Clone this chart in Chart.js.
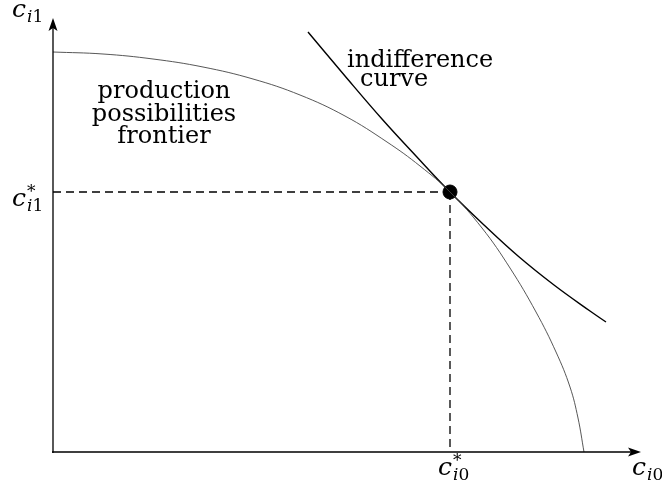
<!DOCTYPE html>
<html lang="en">
<head>
    <meta charset="UTF-8">
    <title>Production possibilities frontier</title>
    <script src="https://cdn.jsdelivr.net/npm/chart.js"></script>
    <style>
        body {
            margin: 0;
            padding: 0;
            background: #ffffff;
        }
        .chart-container {
            position: relative;
            width: 662px;
            height: 491px;
        }
    </style>
</head>
<body>
    <div class="chart-container">
        <canvas id="ppfChart" width="662" height="491"></canvas>
    </div>

    <script>
        // axis extents (arbitrary units)
        const xMax = 5.88;
        const yMax = 4.34;

        // production possibilities frontier
        const ppfX = [0, 0.50, 1.00, 1.50, 2.00, 2.47, 2.92, 3.34, 3.67, 3.97, 4.29, 4.57, 4.83, 5.03, 5.17, 5.25, 5.31];
        const ppfY = [4.00, 3.98, 3.93, 3.85, 3.73, 3.57, 3.36, 3.10, 2.86, 2.60, 2.24, 1.84, 1.40, 1.00, 0.65, 0.34, 0];

        // indifference curve
        const icX = [2.55, 2.92, 3.29, 3.63, 3.97, 4.31, 4.65, 5.01, 5.37, 5.53];
        const icY = [4.20, 3.76, 3.33, 2.96, 2.60, 2.27, 1.96, 1.67, 1.41, 1.30];

        // optimum
        const optX = 3.97;
        const optY = 2.60;

        const ppfLabel = ['production', 'possibilities', 'frontier'];
        const icLabel = ['indifference', 'curve'];

        const toPts = (xs, ys) => xs.map((x, i) => ({ x: x, y: ys[i] }));

        const SERIF = '"DejaVu Serif"';

        // c with subscript (and optional star), x/y = baseline left
        function drawVar(ctx, x, y, sub, star) {
            ctx.font = 'italic 25px ' + SERIF;
            ctx.fillText('c', x, y);
            let w = ctx.measureText('c').width + 1;
            if (star) {
                ctx.font = '17px ' + SERIF;
                ctx.fillText('*', x + w, y - 9);
            }
            ctx.font = 'italic 17px ' + SERIF;
            ctx.fillText(sub[0], x + w, y + 5);
            let w2 = ctx.measureText(sub[0]).width;
            ctx.font = '17px ' + SERIF;
            ctx.fillText(sub.slice(1), x + w + w2, y + 5);
        }

        const decorations = {
            id: 'decorations',
            afterDatasetsDraw(chart) {
                const ctx = chart.ctx;
                const xs = chart.scales.x, ys = chart.scales.y;
                const x0 = xs.getPixelForValue(0), y0 = ys.getPixelForValue(0);
                const x1 = xs.getPixelForValue(xMax), y1 = ys.getPixelForValue(yMax);
                ctx.save();
                ctx.strokeStyle = '#000';
                ctx.fillStyle = '#000';
                ctx.lineWidth = 1.3;
                // axes
                ctx.beginPath();
                ctx.moveTo(x0, y0 + 1);
                ctx.lineTo(x0, y1 + 8);
                ctx.moveTo(x0 - 1, y0);
                ctx.lineTo(x1 - 8, y0);
                ctx.stroke();
                // arrow heads
                ctx.beginPath();
                ctx.moveTo(x0, y1);
                ctx.lineTo(x0 - 4.5, y1 + 13);
                ctx.lineTo(x0, y1 + 10);
                ctx.lineTo(x0 + 4.5, y1 + 13);
                ctx.closePath();
                ctx.fill();
                ctx.beginPath();
                ctx.moveTo(x1, y0);
                ctx.lineTo(x1 - 13, y0 - 4.5);
                ctx.lineTo(x1 - 10, y0);
                ctx.lineTo(x1 - 13, y0 + 4.5);
                ctx.closePath();
                ctx.fill();

                // axis labels
                ctx.textBaseline = 'alphabetic';
                ctx.textAlign = 'left';
                drawVar(ctx, 12, 17, 'i1', false);
                drawVar(ctx, 632, 475, 'i0', false);
                drawVar(ctx, 12, ys.getPixelForValue(optY) + 14, 'i1', true);
                drawVar(ctx, xs.getPixelForValue(optX) - 12, 475, 'i0', true);

                // curve labels
                ctx.font = '24px ' + SERIF;
                ctx.textAlign = 'center';
                ppfLabel.forEach((t, i) => ctx.fillText(t, 164, 98 + i * 22.5));
                ctx.textAlign = 'left';
                ctx.fillText(icLabel[0], 347, 67);
                ctx.fillText(icLabel[1], 360, 86);
                ctx.restore();
            }
        };

        const ctx = document.getElementById('ppfChart').getContext('2d');
        new Chart(ctx, {
            type: 'scatter',
            data: {
                datasets: [
                    {
                        data: toPts(ppfX, ppfY),
                        showLine: true,
                        borderColor: '#444',
                        borderWidth: 0.9,
                        pointRadius: 0,
                        tension: 0.4
                    },
                    {
                        data: toPts(icX, icY),
                        showLine: true,
                        borderColor: '#000',
                        borderWidth: 1.4,
                        pointRadius: 0,
                        tension: 0.4
                    },
                    {
                        data: [{ x: 0, y: optY }, { x: optX, y: optY }],
                        showLine: true,
                        borderColor: '#000',
                        borderWidth: 1.3,
                        borderDash: [8, 5],
                        pointRadius: 0
                    },
                    {
                        data: [{ x: optX, y: optY }, { x: optX, y: 0 }],
                        showLine: true,
                        borderColor: '#000',
                        borderWidth: 1.3,
                        borderDash: [8, 5],
                        pointRadius: 0
                    },
                    {
                        data: [{ x: optX, y: optY }],
                        pointRadius: 7,
                        backgroundColor: '#000',
                        borderColor: '#000'
                    }
                ]
            },
            options: {
                responsive: false,
                animation: false,
                layout: {
                    padding: { left: 53, right: 21, top: 18, bottom: 39 }
                },
                plugins: {
                    legend: { display: false },
                    tooltip: { enabled: false }
                },
                scales: {
                    x: { type: 'linear', min: 0, max: xMax, display: false },
                    y: { type: 'linear', min: 0, max: yMax, display: false }
                }
            },
            plugins: [decorations]
        });
    </script>
</body>
</html>
